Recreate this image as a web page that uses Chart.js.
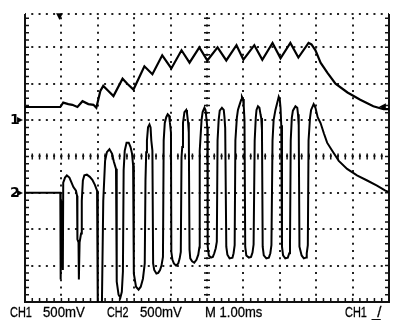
<!DOCTYPE html>
<html>
<head>
<meta charset="utf-8">
<script src="https://cdn.jsdelivr.net/npm/chart.js@4.4.0/dist/chart.umd.min.js"></script>
<style>
  html, body { margin: 0; padding: 0; background: #fff; }
  #wrap { position: relative; width: 400px; height: 326px; overflow: hidden; }
  canvas { position: absolute; left: 0; top: 0; }
  .lbl { position: absolute; font-family: "Liberation Sans", Arial, sans-serif; font-size: 15px; line-height: 15px;
         color: #000; white-space: nowrap; transform-origin: 0 50%; -webkit-text-stroke: 0.3px #000; }
  .mk  { position: absolute; font-family: "DejaVu Sans", sans-serif; color: #000; line-height: 1; white-space: nowrap; }
</style>
</head>
<body>
<div id="wrap">
  <canvas id="scope" width="400" height="326"></canvas>

  <span class="lbl" style="left:10px;top:304px;transform:scaleX(0.73)">CH1</span>
  <span class="lbl" style="left:43px;top:304px;transform:scaleX(0.88)">500mV</span>
  <span class="lbl" style="left:107px;top:304px;transform:scaleX(0.72)">CH2</span>
  <span class="lbl" style="left:140px;top:304px;transform:scaleX(0.88)">500mV</span>
  <span class="lbl" style="left:205px;top:304px;transform:scaleX(0.87)">M 1.00ms</span>
  <span class="lbl" style="left:345px;top:304px;transform:scaleX(0.73)">CH1</span>
  <span class="lbl" style="left:372px;top:304px;letter-spacing:-3px">_/</span>

  <span class="mk" style="left:10px;top:112px;font-size:14px;font-weight:bold">1</span>
  <span class="mk" style="left:17px;top:113px;font-size:12px">▸</span>
  <span class="mk" style="left:10px;top:185px;font-size:14px;font-weight:bold">2</span>
  <span class="mk" style="left:17px;top:186px;font-size:12px">▸</span>
  <span class="mk" style="left:56px;top:12px;font-size:9px">▼</span>
  <span class="mk" style="left:379px;top:102px;font-size:9px">◀</span>
</div>
<script>
// M 1.00ms: ten divisions, trigger one division in from the left
const timeTicks = [-1, 0, 1, 2, 3, 4, 5, 6, 7, 8, 9];
// vertical graticule in divisions; the top row sits a little under +4
const divTicks = [-4, -3, -2, -1, 0, 1, 2, 3];
const divTop = 3.917;
const voltsPerDiv = 0.5;
const ch1Position = 1;
const ch2Position = -1;

// CH1 (ms, V)
const ch1Time = [-1.00, -0.03, 0.05, 0.19, 0.30, 0.44, 0.58, 0.74, 0.88, 0.96,
  1.07, 1.15, 1.29, 1.43, 1.68, 1.81, 1.98, 2.28, 2.50, 2.77,
  3.02, 3.30, 3.52, 3.79, 4.01, 4.29, 4.53, 4.81, 5.00, 5.30,
  5.52, 5.80, 6.02, 6.29, 6.51, 6.79, 6.87, 6.98, 7.12, 7.31,
  7.53, 7.86, 8.21, 8.57, 8.85, 9.00];
const ch1Volts = [0.18, 0.18, 0.24, 0.22, 0.21, 0.18, 0.26, 0.22, 0.21, 0.17,
  0.40, 0.47, 0.40, 0.33, 0.57, 0.50, 0.42, 0.74, 0.63, 0.89,
  0.71, 0.96, 0.79, 1.00, 0.82, 1.00, 0.82, 1.03, 0.83, 1.03,
  0.83, 1.06, 0.85, 1.06, 0.86, 1.06, 1.04, 0.96, 0.79, 0.65,
  0.50, 0.38, 0.28, 0.19, 0.15, 0.15];

// CH2 (ms, V), one line per cycle
const ch2Time = [
  -1.00, -0.03, -0.02, 0.00, 0.04, 0.05, 0.10, 0.15, 0.22, 0.27, 0.33, 0.40, 0.43, 0.44,
  0.47, 0.48, 0.50, 0.54, 0.56, 0.59, 0.63, 0.70, 0.78, 0.85, 0.92, 0.98, 1.00, 1.11,
  1.15, 1.20, 1.25, 1.32, 1.39, 1.44, 1.50, 1.52, 1.57, 1.62, 1.66, 1.69,
  1.71, 1.74, 1.79, 1.85, 1.90, 1.94, 1.97, 1.99, 2.05, 2.12, 2.18, 2.24, 2.29,
  2.31, 2.33, 2.35, 2.38, 2.42, 2.45, 2.47, 2.50, 2.52, 2.55, 2.61, 2.66, 2.71, 2.75, 2.79,
  2.81, 2.84, 2.88, 2.92, 2.96, 2.98, 3.01, 3.02, 3.05, 3.09, 3.15, 3.21, 3.25, 3.28,
  3.30, 3.32, 3.34, 3.38, 3.43, 3.45, 3.48, 3.50, 3.52, 3.54, 3.59, 3.65, 3.71, 3.76, 3.79,
  3.80, 3.82, 3.85, 3.88, 3.93, 3.96, 3.98, 4.01, 4.02, 4.05, 4.11, 4.16, 4.20, 4.24, 4.27,
  4.29, 4.32, 4.35, 4.41, 4.46, 4.48, 4.50, 4.53, 4.56, 4.62, 4.70, 4.73, 4.76,
  4.78, 4.82, 4.85, 4.90, 4.94, 4.96, 4.99, 5.01, 5.03, 5.05, 5.08, 5.15, 5.21, 5.25, 5.28,
  5.31, 5.34, 5.36, 5.40, 5.44, 5.47, 5.49, 5.51, 5.53, 5.56, 5.63, 5.70, 5.74, 5.77,
  5.80, 5.83, 5.88, 5.93, 5.97, 6.00, 6.02, 6.04, 6.06, 6.09, 6.15, 6.22, 6.26, 6.28,
  6.30, 6.33, 6.36, 6.43, 6.48, 6.50, 6.52, 6.54, 6.60, 6.66, 6.72, 6.74, 6.77,
  6.79, 6.83, 6.86, 6.93, 6.98, 7.04, 7.12, 7.21, 7.30, 7.44, 7.62, 7.85, 8.12, 8.40, 8.67, 8.90, 9.00];
const ch2Volts = [
  0.00, 0.00, -1.19, -0.11, -1.06, 0.14, 0.21, 0.24, 0.21, 0.15, 0.08, 0.03, -0.04, -0.64,
  -0.68, -1.19, -0.68, -0.56, -0.11, 0.17, 0.24, 0.25, 0.22, 0.18, 0.11, 0.03, -1.64, -1.64,
  -0.11, 0.44, 0.56, 0.60, 0.54, 0.43, 0.33, -1.22, -1.40, -1.44, -1.36, -1.08,
  0.31, 0.58, 0.69, 0.69, 0.63, 0.54, 0.38, -1.11, -1.29, -1.33, -1.29, -1.18, -0.97,
  0.17, 0.56, 0.72, 0.90, 0.94, 0.90, 0.72, 0.58, -0.97, -1.06, -1.11, -1.10, -1.06, -1.00, -0.88,
  0.72, 0.96, 1.04, 1.08, 1.06, 0.97, 0.83, -0.81, -0.92, -0.97, -1.00, -0.97, -0.90, -0.81,
  0.49, 0.63, 0.96, 1.11, 1.14, 1.10, 0.97, 0.83, -0.78, -0.90, -0.94, -0.96, -0.92, -0.85, -0.75,
  0.58, 0.75, 1.00, 1.11, 1.17, 1.14, 1.04, 0.89, -0.74, -0.86, -0.89, -0.88, -0.83, -0.76, -0.67,
  0.72, 1.00, 1.13, 1.17, 1.14, 1.04, 0.89, -0.74, -0.85, -0.90, -0.89, -0.83, -0.72,
  0.72, 1.03, 1.14, 1.22, 1.28, 1.32, 1.29, 1.19, 1.00, -0.74, -0.86, -0.89, -0.88, -0.82, -0.71,
  0.72, 1.03, 1.14, 1.19, 1.17, 1.08, 1.03, 0.86, -0.74, -0.86, -0.90, -0.89, -0.83, -0.72,
  0.72, 1.00, 1.14, 1.24, 1.32, 1.28, 1.17, 0.93, -0.74, -0.86, -0.90, -0.89, -0.83, -0.72,
  0.72, 1.03, 1.13, 1.19, 1.17, 1.08, 0.93, -0.74, -0.86, -0.90, -0.89, -0.83, -0.72,
  0.72, 1.03, 1.14, 1.22, 1.17, 1.04, 0.96, 0.82, 0.69, 0.58, 0.44, 0.33, 0.24, 0.17, 0.10, 0.03, 0.01];

const toPoints = (ts, vs) => ts.map((t, i) => ({ x: t, y: vs[i] }));

// frame, centre-line ticks and edge ticks of the graticule
const graticule = {
  id: 'graticule',
  beforeDatasetsDraw(chart) {
    const { ctx, chartArea: a, scales: { x, y } } = chart;
    const cx = x.getPixelForValue(4);
    const cy = y.getPixelForValue(0);
    ctx.save();
    ctx.strokeStyle = '#111';
    ctx.lineWidth = 2;
    ctx.beginPath();
    ctx.moveTo(a.left, a.top);
    ctx.lineTo(a.left, a.bottom);
    ctx.lineTo(a.right, a.bottom);
    ctx.lineTo(a.right, a.top);
    ctx.stroke();

    ctx.lineWidth = 1.5;
    ctx.beginPath();
    for (let i = 0; i <= 50; i++) {
      const px = x.getPixelForValue(-1 + i * 0.2);
      ctx.moveTo(px, cy - 3); ctx.lineTo(px, cy + 3);
      ctx.moveTo(px, a.bottom); ctx.lineTo(px, a.bottom - 4);
    }
    for (let i = 0; -4 + i * 0.2 <= divTop; i++) {
      const py = y.getPixelForValue(-4 + i * 0.2);
      ctx.moveTo(cx - 3, py); ctx.lineTo(cx + 3, py);
      ctx.moveTo(a.left, py); ctx.lineTo(a.left + 4, py);
      ctx.moveTo(a.right, py); ctx.lineTo(a.right - 4, py);
    }
    ctx.stroke();
    ctx.restore();
  }
};

new Chart(document.getElementById('scope'), {
  type: 'line',
  data: {
    datasets: [{
      data: toPoints(ch1Time, ch1Volts),
      yAxisID: 'y1',
      borderColor: '#000',
      borderWidth: 2.2,
      pointRadius: 0,
    }, {
      data: toPoints(ch2Time, ch2Volts),
      yAxisID: 'y2',
      borderColor: '#000',
      borderWidth: 2,
      pointRadius: 0,
    }],
  },
  options: {
    responsive: false,
    animation: false,
    events: [],
    layout: { padding: { left: 25, top: 14, right: 11, bottom: 24 } },
    plugins: { legend: { display: false }, tooltip: { enabled: false } },
    scales: {
      x: {
        type: 'linear', min: -1, max: 9,
        afterBuildTicks: s => { s.ticks = timeTicks.map(v => ({ value: v })); },
        ticks: { display: false },
        grid: { color: '#222', lineWidth: 2, drawTicks: false },
        border: { display: false, dash: [2, 5.275], dashOffset: 4 },
      },
      y: {
        type: 'linear', min: -4, max: divTop,
        afterBuildTicks: s => { s.ticks = divTicks.concat([divTop]).map(v => ({ value: v })); },
        ticks: { display: false },
        grid: { color: '#222', lineWidth: 2, drawTicks: false },
        border: { display: false, dash: [2, 5.28], dashOffset: 1 },
      },
      y1: {
        display: false,
        min: (-4 - ch1Position) * voltsPerDiv,
        max: (divTop - ch1Position) * voltsPerDiv,
      },
      y2: {
        display: false,
        min: (-4 - ch2Position) * voltsPerDiv,
        max: (divTop - ch2Position) * voltsPerDiv,
      },
    },
  },
  plugins: [graticule],
});
</script>
</body>
</html>
